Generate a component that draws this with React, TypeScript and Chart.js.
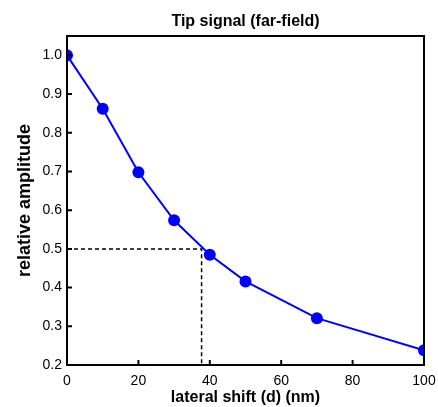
import React, { useEffect, useRef } from "react";
import { Chart, registerables } from "chart.js";

Chart.register(...registerables);

const shiftNm = [0, 10, 20, 30, 40, 50, 70, 100];
const amplitude = [1.0, 0.862, 0.698, 0.574, 0.485, 0.416, 0.321, 0.238];
const guideX = [0, 37.7, 37.7];
const guideY = [0.5, 0.5, 0.2];
const xTicks = [0, 20, 40, 60, 80, 100];
const yTicks = [0.2, 0.3, 0.4, 0.5, 0.6, 0.7, 0.8, 0.9, 1.0];

const FONT = "'Liberation Sans', Arial, sans-serif";

const framePlugin = {
  id: "frame",
  afterDatasetsDraw(chart: any) {
    const { ctx, chartArea } = chart;
    const { left, right, top, bottom } = chartArea;
    const xs = chart.scales.x;
    const ys = chart.scales.y;
    ctx.save();
    ctx.strokeStyle = "#000";
    ctx.lineWidth = 2;
    ctx.strokeRect(left, top, right - left, bottom - top);
    ctx.beginPath();
    xTicks.forEach((v) => {
      const px = xs.getPixelForValue(v);
      ctx.moveTo(px, bottom);
      ctx.lineTo(px, bottom - 5);
    });
    yTicks.forEach((v) => {
      const py = ys.getPixelForValue(v);
      ctx.moveTo(left, py);
      ctx.lineTo(left + 5, py);
    });
    ctx.stroke();
    ctx.restore();
  },
};

export default function App() {
  const ref = useRef<HTMLCanvasElement>(null);
  useEffect(() => {
    if (!ref.current) return;
    const chart = new Chart(ref.current, {
      type: "scatter",
      data: {
        datasets: [
          {
            data: guideX.map((x, i) => ({ x, y: guideY[i] })),
            showLine: true,
            borderColor: "#000",
            borderWidth: 1.5,
            borderDash: [4, 3],
            pointRadius: 0,
            clip: 0,
          },
          {
            data: shiftNm.map((x, i) => ({ x, y: amplitude[i] })),
            showLine: true,
            borderColor: "#0000ff",
            backgroundColor: "#0000ff",
            borderWidth: 2,
            pointRadius: 6,
            pointBorderWidth: 0,
            clip: 0,
          },
        ],
      },
      options: {
        animation: false,
        responsive: false,
        layout: { padding: { left: 0, right: 14, top: 0, bottom: 0 } },
        plugins: {
          legend: { display: false },
          tooltip: { enabled: false },
          title: {
            display: true,
            fullSize: false,
            text: "Tip signal (far-field)",
            color: "#000",
            font: { family: FONT, size: 16, weight: "bold" },
            padding: { top: 12, bottom: 4.8 },
          },
        },
        scales: {
          x: {
            type: "linear",
            min: 0,
            max: 100,
            afterBuildTicks: (s: any) => {
              s.ticks = xTicks.map((v) => ({ value: v }));
            },
            afterFit: (s: any) => {
              s.height = 42;
              s.paddingLeft = 0;
              s.paddingRight = 0;
            },
            grid: { display: false, drawTicks: false },
            border: { display: false },
            ticks: {
              color: "#000",
              font: { family: FONT, size: 14 },
              padding: 8,
              maxRotation: 0,
            },
            title: {
              display: true,
              text: "lateral shift (d) (nm)",
              color: "#000",
              font: { family: FONT, size: 16, weight: "bold" },
              padding: { top: 0, bottom: 0 },
            },
          },
          y: {
            type: "linear",
            min: 0.2,
            max: 1.05,
            afterBuildTicks: (s: any) => {
              s.ticks = yTicks.map((v) => ({ value: v }));
            },
            afterFit: (s: any) => {
              s.width = 67;
              s.paddingTop = 0;
              s.paddingBottom = 0;
            },
            grid: { display: false, drawTicks: false },
            border: { display: false },
            ticks: {
              color: "#000",
              font: { family: FONT, size: 14 },
              padding: 5,
              callback: (v: any) => Number(v).toFixed(1),
            },
            title: {
              display: true,
              text: "relative amplitude",
              color: "#000",
              font: { family: FONT, size: 18, weight: "bold" },
              padding: { top: 14, bottom: 0 },
            },
          },
        },
      },
      plugins: [framePlugin],
    });
    return () => chart.destroy();
  }, []);
  return (
    <div style={{ position: "fixed", left: 0, top: 0, width: 438, height: 407, background: "#fff" }}>
      <canvas ref={ref} width={438} height={407} style={{ width: 438, height: 407 }} />
    </div>
  );
}
